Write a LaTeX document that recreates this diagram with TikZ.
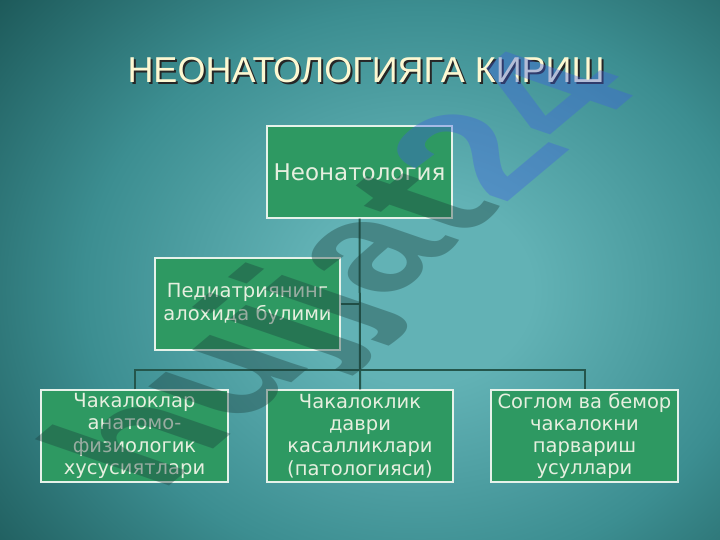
\documentclass[tikz,border=0pt]{standalone}
\usepackage{fontspec}
\setmainfont{Liberation Sans}
\newfontfamily\boxfont{DejaVu Sans}
\newfontfamily\wmfont{Liberation Sans}
\definecolor{bglight}{HTML}{62B2B5}
\definecolor{bgmid}{HTML}{3C8E91}
\definecolor{bgdark}{HTML}{1B5656}
\definecolor{boxgreen}{HTML}{2E9962}
\definecolor{boxline}{HTML}{E6F2EA}
\definecolor{boxtext}{HTML}{E6EFDF}
\definecolor{titlecol}{HTML}{FDF8D2}
\definecolor{conn}{HTML}{24564C}
\definecolor{wmdark}{HTML}{1A3F3C}
\definecolor{wmblue}{HTML}{3F5FE0}
\pgfdeclareradialshading{bgshade}{\pgfpoint{0bp}{0bp}}{color(0bp)=(bglight); color(5bp)=(bglight); color(15bp)=(bgmid); color(25bp)=(bgdark); color(50bp)=(bgdark)}
\tikzset{
  orgbox/.style={draw=boxline, line width=1.3pt, fill=boxgreen, text=boxtext,
    align=center, inner sep=0pt, minimum height=92pt,
    font=\boxfont\fontsize{19.5}{22.3}\selectfont},
  connline/.style={draw=conn, line width=2pt},
}
\begin{document}
\begin{tikzpicture}[x=1pt,y=-1pt]
\useasboundingbox (0,0) rectangle (720,540);
\fill[bgdark] (0,0) rectangle (720,540);
\begin{scope}
\clip (0,0) rectangle (720,540);
\shade[shading=bgshade] (420,290) ellipse (560 and 470);
\end{scope}
% title
\node[text=black!85, font=\fontsize{36}{36}\selectfont] (ttlshadow) at (368,72) {НЕОНАТОЛОГИЯГА КИРИШ};
\node[text=titlecol, font=\fontsize{36}{36}\selectfont] (ttl) at (366,70) {НЕОНАТОЛОГИЯГА КИРИШ};
% boxes
\node[orgbox, minimum width=185pt, font=\boxfont\fontsize{23}{26}\selectfont] (top) at (359.5,172) {Неонатология};
\node[orgbox, minimum width=185pt] (ped) at (247.5,304) {Педиатриянинг\\алохида булими};
\node[orgbox, minimum width=187pt] (b1) at (134.5,436) {Чакалоклар\\анатомо-\\физиологик\\хусусиятлари};
\node[orgbox, minimum width=186pt] (b2) at (360,436) {Чакалоклик\\даври\\касалликлари\\(патологияси)};
\node[orgbox, minimum width=187pt] (b3) at (584.5,436) {Соглом ва бемор\\чакалокни\\парвариш\\усуллари};
% connectors
\coordinate (jn) at (360,370);
\draw[connline] (top.south) -- (jn) -- (b2.north);
\draw[connline] (b1.north) |- (jn) -| (b3.north);
\draw[connline] (ped.east) -- (ped.east -| top.south);
% watermark
\begin{scope}[shift={(160,494)}, rotate=40, xslant=-0.6]
\node[transform shape, anchor=base west, inner sep=0pt, text opacity=0.38,
  font=\wmfont\fontsize{168}{168}\bfseries] (wm) at (0,0)
  {\textcolor{wmdark}{hujjat}\textcolor{wmblue}{24}};
\end{scope}
\end{tikzpicture}
\end{document}
